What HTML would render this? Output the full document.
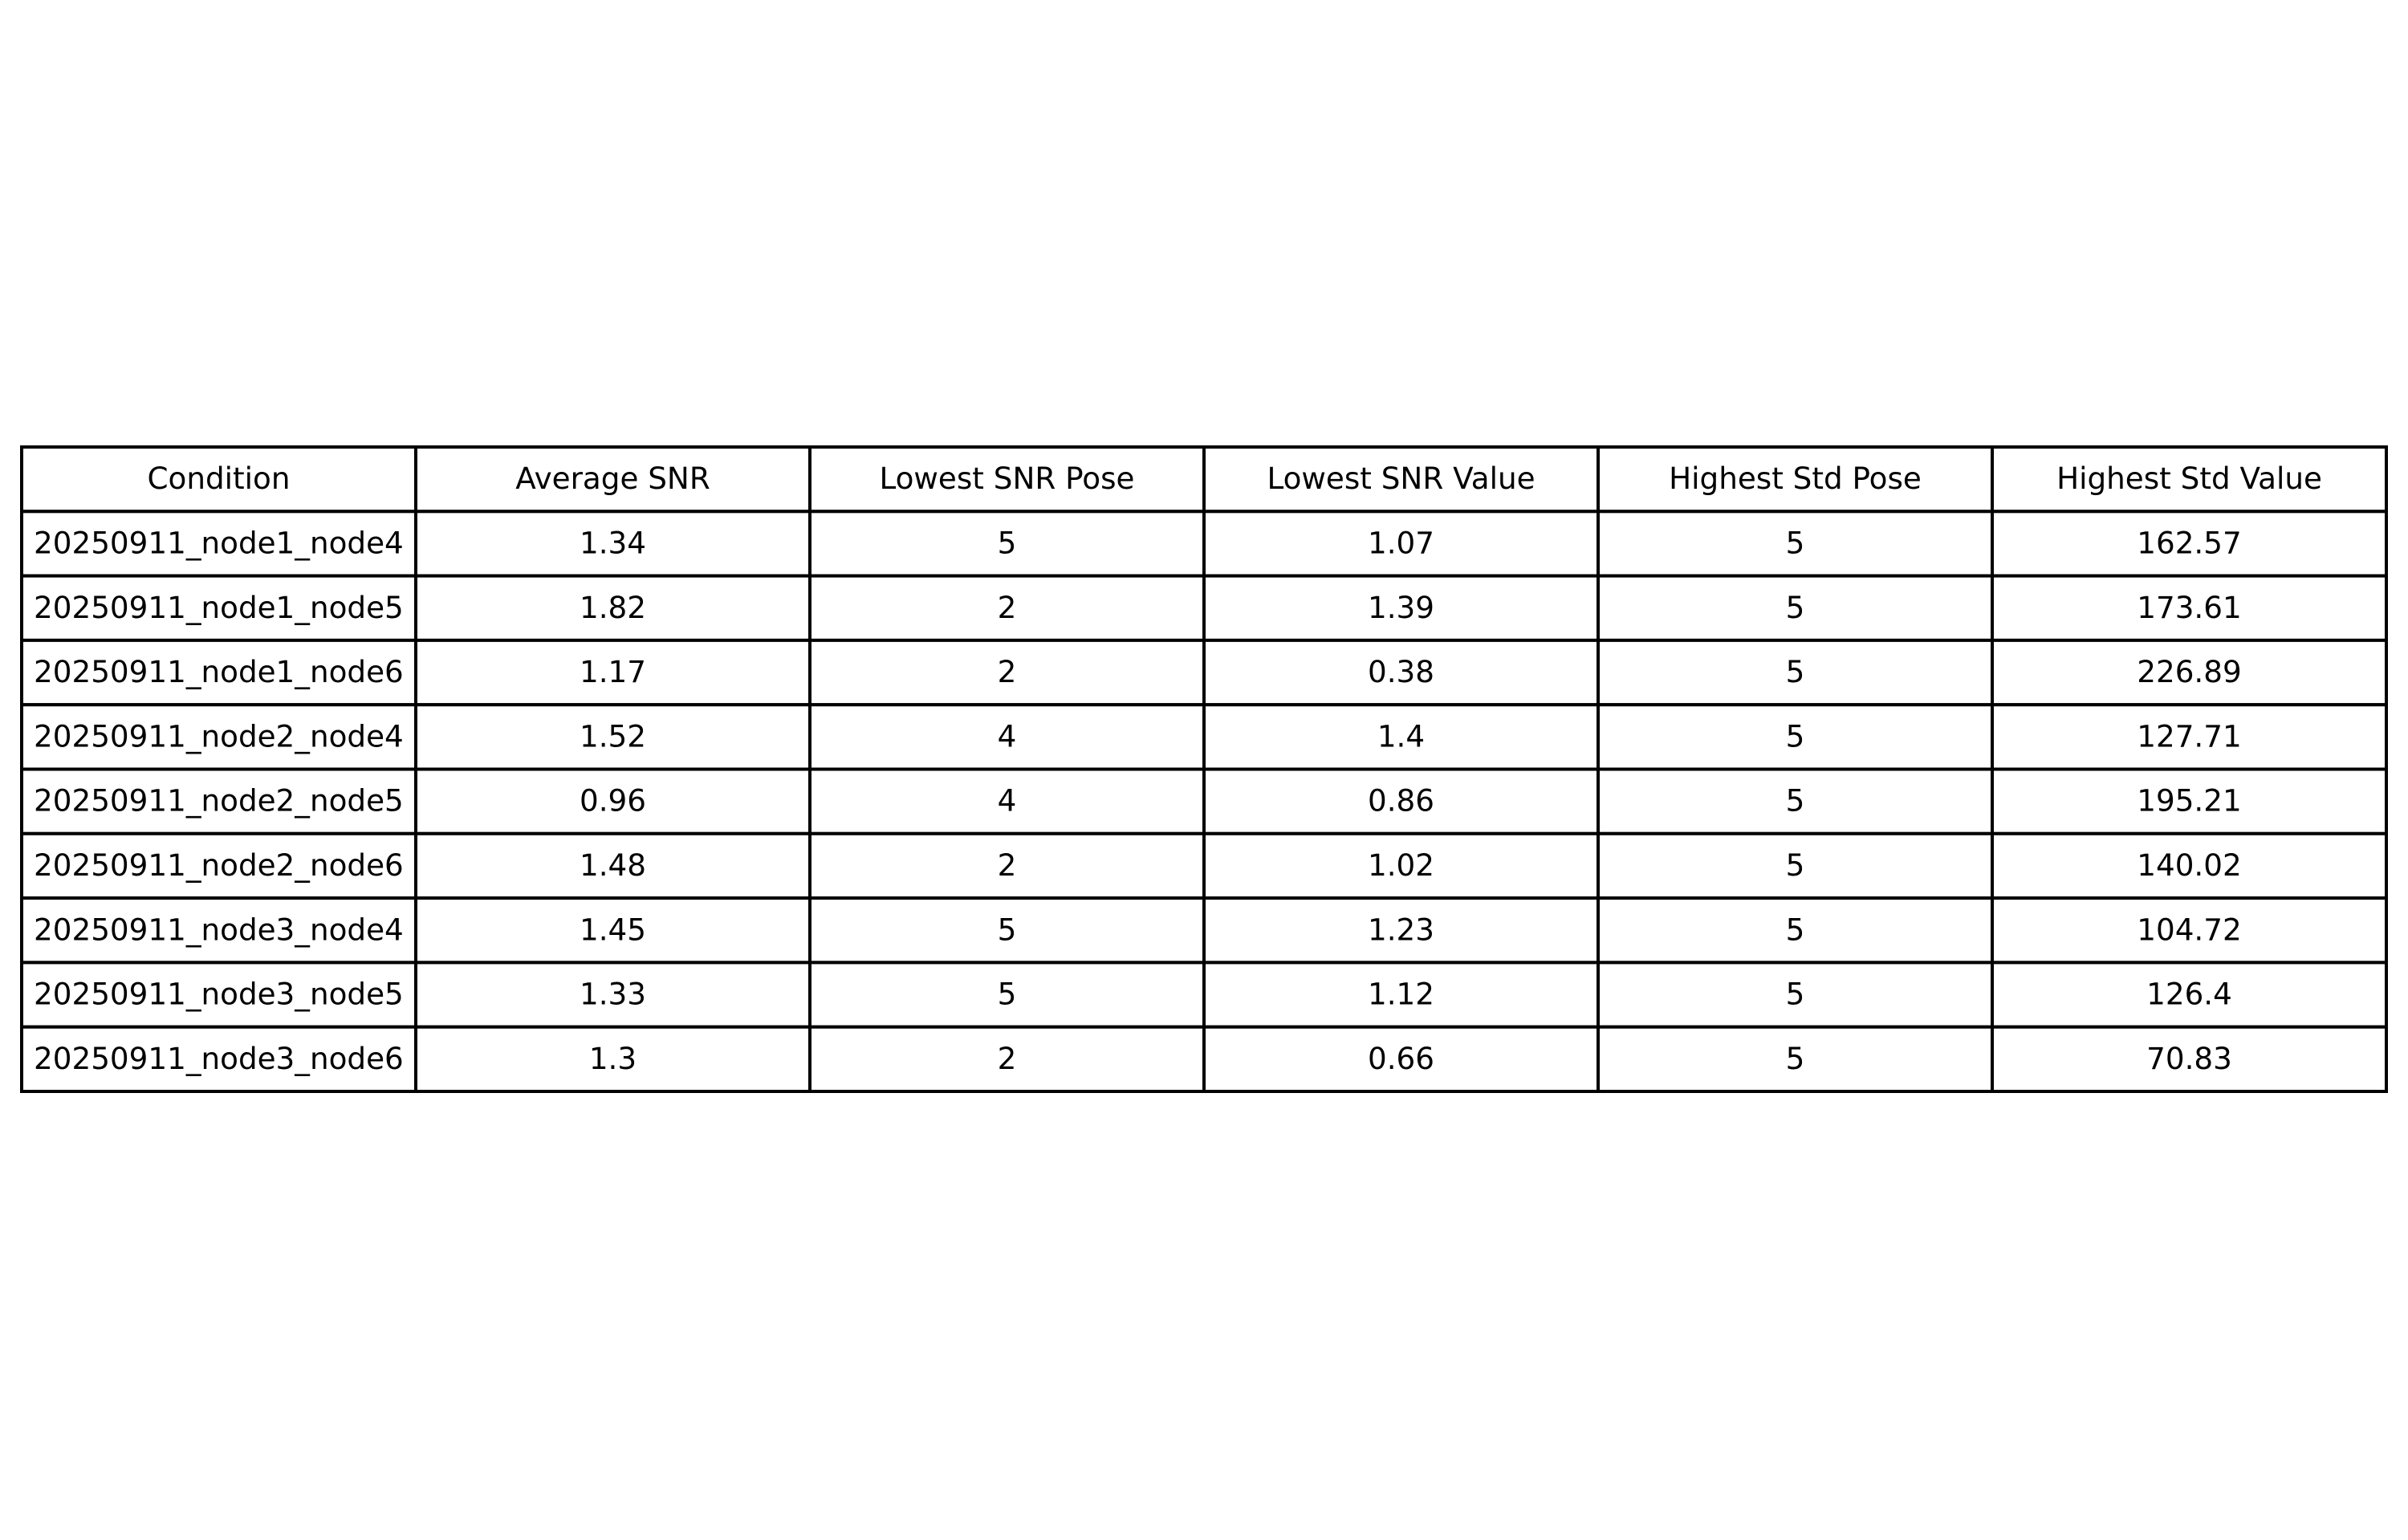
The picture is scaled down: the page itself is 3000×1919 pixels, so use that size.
<!DOCTYPE html>
<html><head><meta charset="utf-8"><style>
html,body{margin:0;padding:0;background:#fff;}
svg{display:block;}
text{font-family:"DejaVu Sans","Liberation Sans",sans-serif;font-size:37.3px;fill:#000;}
</style></head><body>
<svg id="tbl" width="3000" height="1919" xmlns="http://www.w3.org/2000/svg"></svg>
<script>
const headers = ["Condition","Average SNR","Lowest SNR Pose","Lowest SNR Value","Highest Std Pose","Highest Std Value"];
const conditions = ["20250911_node1_node4","20250911_node1_node5","20250911_node1_node6","20250911_node2_node4","20250911_node2_node5","20250911_node2_node6","20250911_node3_node4","20250911_node3_node5","20250911_node3_node6"];
const avgSnr = ["1.34","1.82","1.17","1.52","0.96","1.48","1.45","1.33","1.3"];
const lowPose = ["5","2","2","4","4","2","5","5","2"];
const lowVal = ["1.07","1.39","0.38","1.4","0.86","1.02","1.23","1.12","0.66"];
const stdPose = ["5","5","5","5","5","5","5","5","5"];
const stdVal = ["162.57","173.61","226.89","127.71","195.21","140.02","104.72","126.4","70.83"];

const svg = document.getElementById('tbl');
const NS = "http://www.w3.org/2000/svg";
const x0 = 27, y0 = 557, x1 = 2973, y1 = 1360;
const nCols = headers.length, nRows = conditions.length + 1;
const cw = (x1 - x0) / nCols, rh = (y1 - y0) / nRows;
const cols = [conditions, avgSnr, lowPose, lowVal, stdPose, stdVal];

function cell(r, c, txt, isHeader) {
  const rect = document.createElementNS(NS, 'rect');
  rect.setAttribute('x', x0 + c * cw);
  rect.setAttribute('y', y0 + r * rh);
  rect.setAttribute('width', cw);
  rect.setAttribute('height', rh);
  rect.setAttribute('fill', '#fff');
  rect.setAttribute('stroke', '#000');
  rect.setAttribute('stroke-width', '4');
  
  
  svg.appendChild(rect);
  const t = document.createElementNS(NS, 'text');
  const left = (c === 0 && !isHeader);
  t.setAttribute('x', left ? x0 + 15 : x0 + c * cw + cw / 2);
  t.setAttribute('y', y0 + r * rh + rh / 2 + 12);
  t.setAttribute('text-anchor', left ? 'start' : 'middle');
  t.textContent = txt;
  
  
  svg.appendChild(t);
}
headers.forEach((h, c) => cell(0, c, h, true));
for (let r = 0; r < conditions.length; r++) {
  for (let c = 0; c < nCols; c++) cell(r + 1, c, cols[c][r], false);
}
</script>
</body></html>
